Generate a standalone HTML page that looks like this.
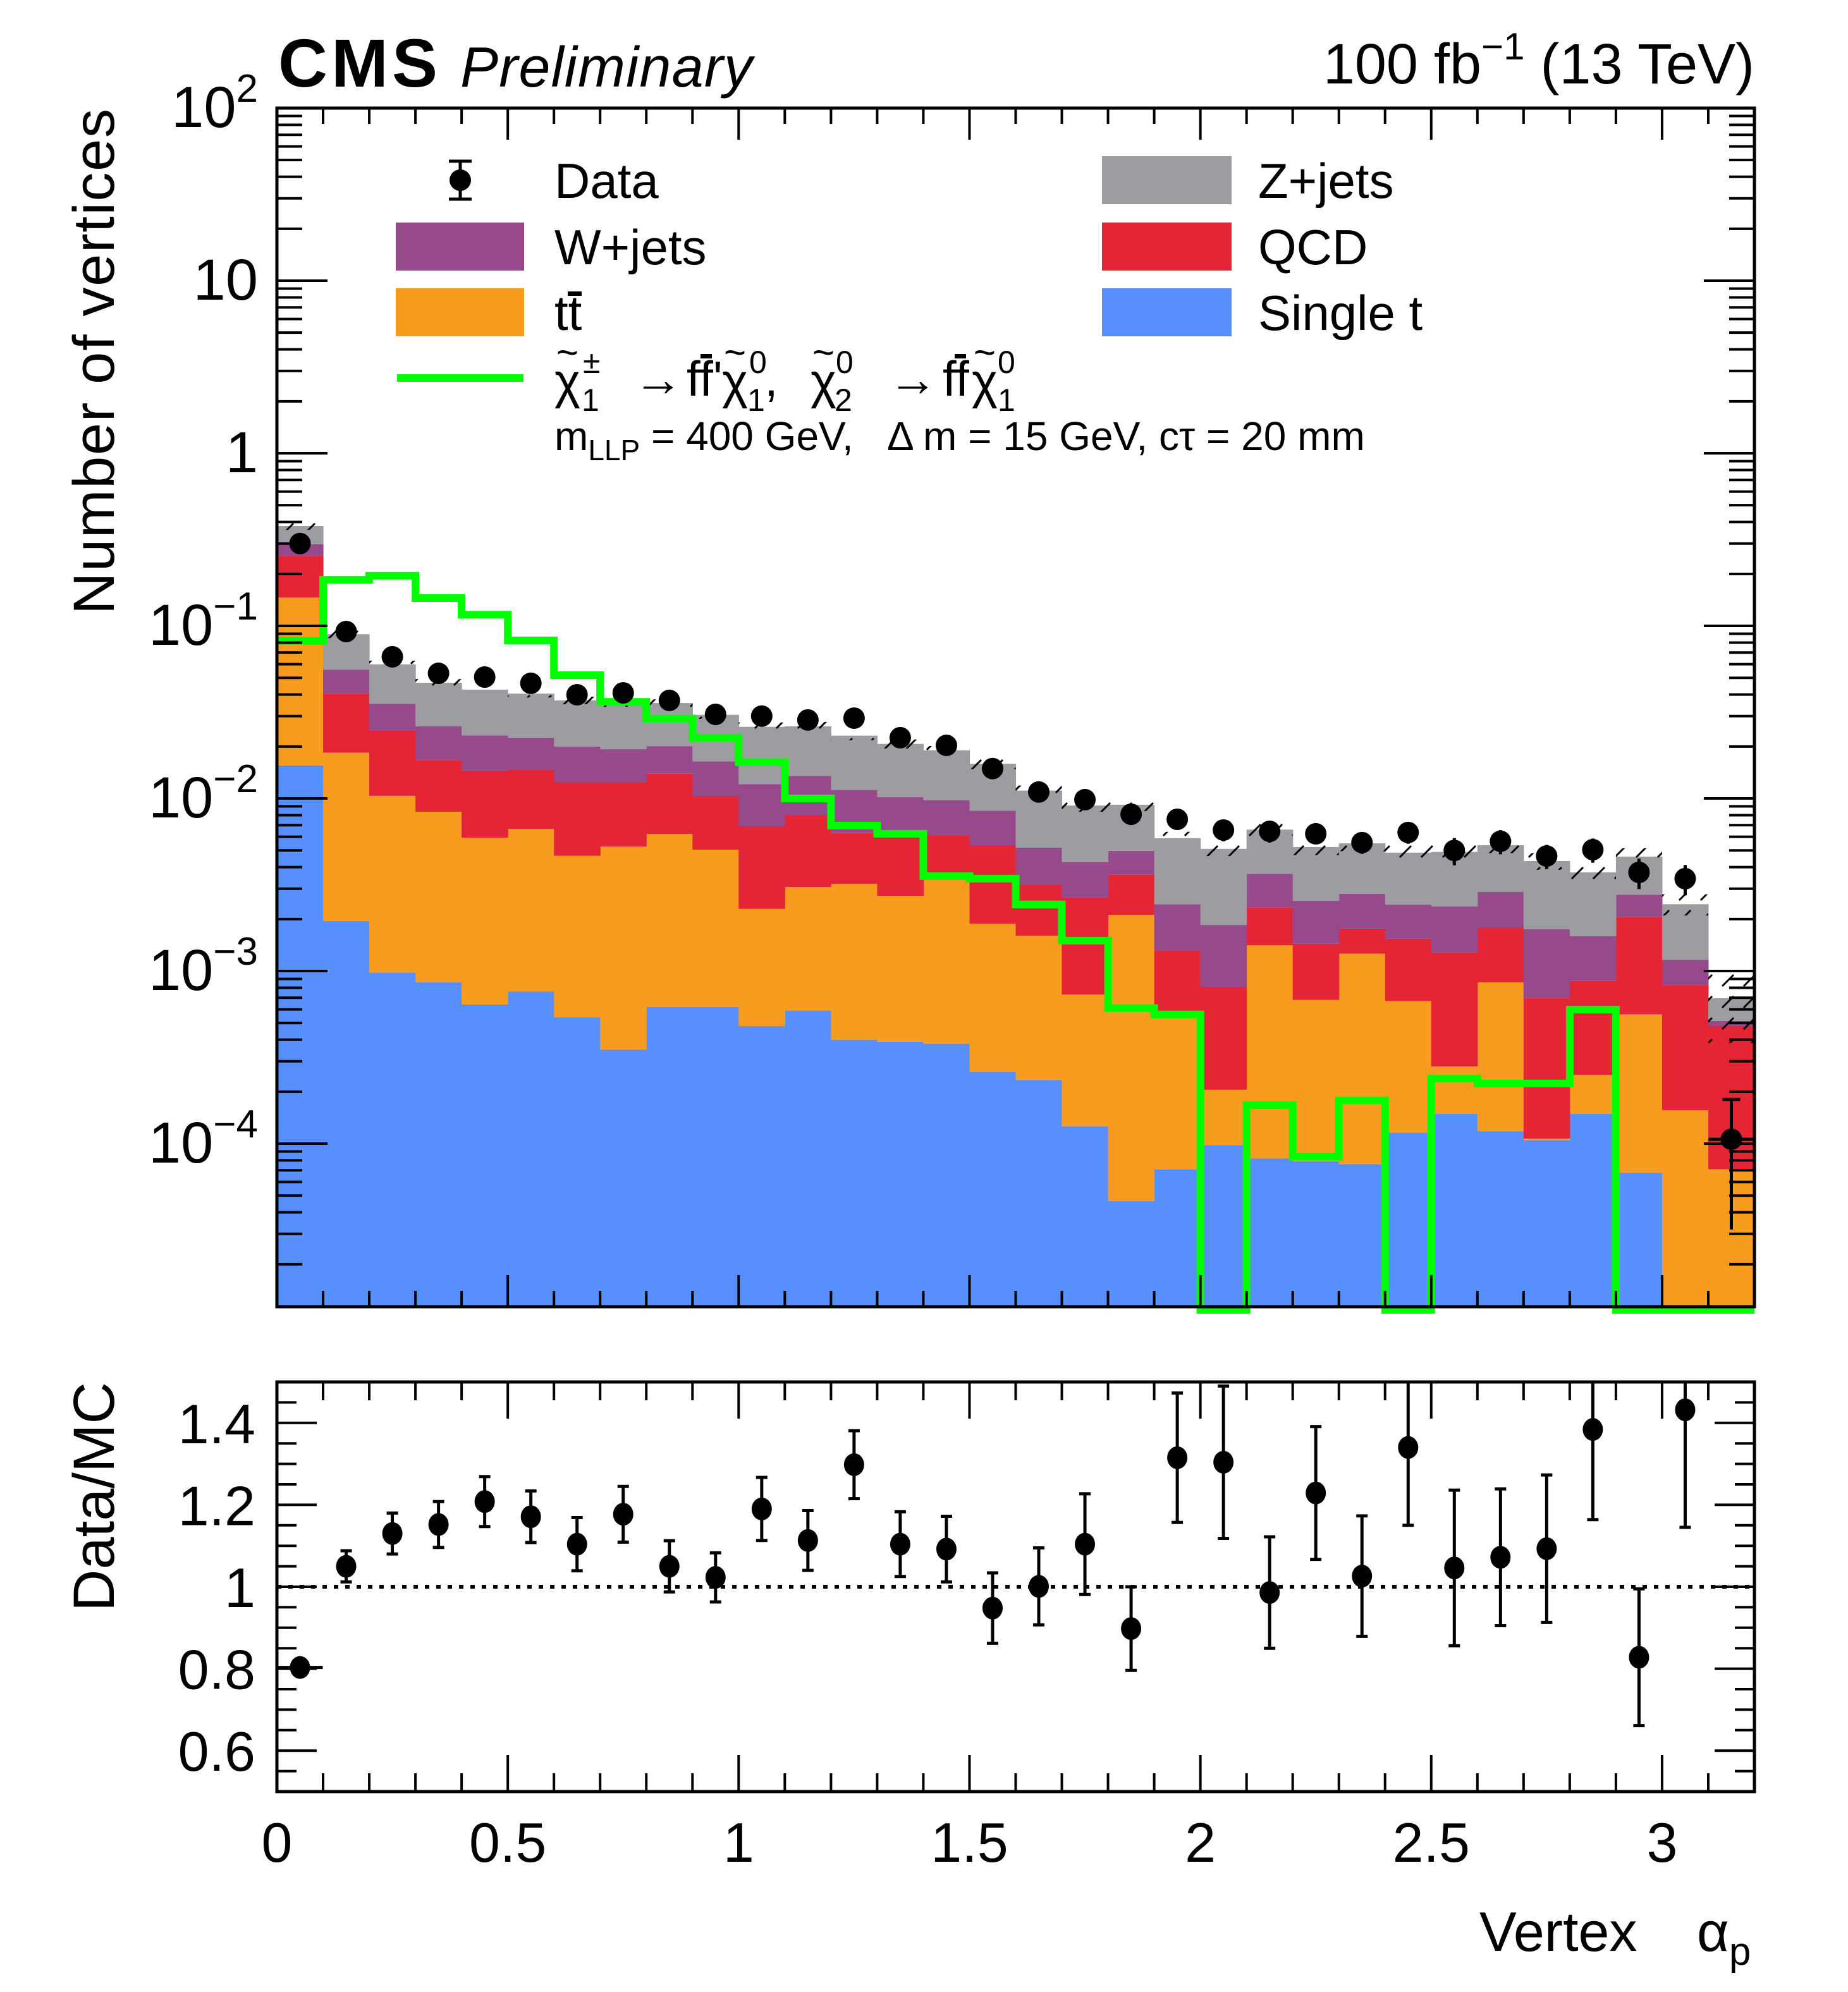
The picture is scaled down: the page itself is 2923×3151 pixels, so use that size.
<!DOCTYPE html>
<html><head><meta charset="utf-8"><style>
html,body{margin:0;padding:0;background:#fff;}
svg{display:block;font-family:"Liberation Sans","DejaVu Sans",sans-serif;}
text{white-space:pre;}
</style></head><body>
<svg id="chart" xmlns="http://www.w3.org/2000/svg" xml:space="preserve" width="2923" height="3151" viewBox="0 0 2923 3151">
<defs>
<pattern id="hatch" patternUnits="userSpaceOnUse" width="34" height="34">
<line x1="4" y1="30" x2="22" y2="12" stroke="#000" stroke-width="3"/>
</pattern>
<clipPath id="topclip"><rect x="438" y="171" width="2337" height="1896"/></clipPath>
<clipPath id="ratioclip"><rect x="438" y="2186" width="2337" height="648"/></clipPath>
</defs>
<rect x="0" y="0" width="2923" height="3151" fill="#fff"/>
<g id="stack" clip-path="url(#topclip)"></g>
<g id="band" clip-path="url(#topclip)"></g>
<g id="signal"></g>
<g id="datapts"></g>
<g id="ratio" clip-path="url(#ratioclip)"></g>
<g id="axes"></g>

<text x="440" y="137" font-size="108" font-weight="bold" textLength="252">CMS</text>
<text x="728" y="137" font-size="90" font-style="italic" textLength="462">Preliminary</text>
<text x="2775" y="132" font-size="90" text-anchor="end">100 fb<tspan dy="-38" font-size="60">−1</tspan><tspan dy="38"> (13 TeV)</tspan></text>
<text transform="translate(180,172) rotate(-90)" font-size="92" text-anchor="end" textLength="800">Number of vertices</text>
<text transform="translate(180,2186) rotate(-90)" font-size="92" text-anchor="end">Data/MC</text>
<text x="2340" y="3086" font-size="88">Vertex</text>
<text x="2684" y="3086" font-size="88">α<tspan dy="22" font-size="62">p</tspan></text>

<g font-size="78">
 <g>
  <line x1="728" y1="255" x2="728" y2="315" stroke="#000" stroke-width="5"/>
  <line x1="710" y1="255" x2="746" y2="255" stroke="#000" stroke-width="5"/>
  <line x1="710" y1="315" x2="746" y2="315" stroke="#000" stroke-width="5"/>
  <circle cx="728" cy="285" r="17" fill="#000"/>
  <text x="877" y="313">Data</text>
 </g>
 <g><rect x="626" y="352" width="203" height="76" fill="#964a8b"/><text x="877" y="418">W+jets</text></g>
 <g><rect x="626" y="456" width="203" height="76" fill="#f89c20"/><text x="877" y="522">tt</text><rect x="898" y="461" width="22" height="7" fill="#000"/></g>
 <g>
  <line x1="628" y1="598" x2="828" y2="598" stroke="#00ff00" stroke-width="12"/>
  <text x="877" y="630">χ</text>
  <text x="880" y="578" font-size="60">~</text>
  <text x="922" y="590" font-size="50">±</text>
  <text x="920" y="650" font-size="50">1</text>
  <text x="1002" y="626" textLength="63">→</text>
  <text x="1086" y="626">ff'</text>
  <rect x="1108" y="560" width="18" height="7" fill="#000"/>
  <text x="1142" y="630">χ</text>
  <text x="1145" y="578" font-size="60">~</text>
  <text x="1185" y="590" font-size="50">0</text>
  <text x="1182" y="650" font-size="50">1</text>
  <text x="1209" y="626">,</text>
  <text x="1282" y="630">χ</text>
  <text x="1285" y="578" font-size="60">~</text>
  <text x="1322" y="590" font-size="50">0</text>
  <text x="1320" y="650" font-size="50">2</text>
  <text x="1405" y="626" textLength="64">→</text>
  <text x="1491" y="626">ff</text>
  <rect x="1510" y="560" width="18" height="7" fill="#000"/>
  <text x="1537" y="630">χ</text>
  <text x="1540" y="578" font-size="60">~</text>
  <text x="1578" y="590" font-size="50">0</text>
  <text x="1578" y="650" font-size="50">1</text>
 </g>
 <text x="877" y="712" font-size="64">m<tspan dy="16" font-size="46">LLP</tspan><tspan dy="-16"> = 400 GeV,   Δ m = 15 GeV, cτ = 20 mm</tspan></text>
 <g><rect x="1743" y="247" width="205" height="76" fill="#9c9ca1"/><text x="1990" y="313">Z+jets</text></g>
 <g><rect x="1743" y="352" width="205" height="76" fill="#e42536"/><text x="1990" y="418">QCD</text></g>
 <g><rect x="1743" y="456" width="205" height="76" fill="#5790fc"/><text x="1990" y="522">Single t</text></g>
</g>
</svg>
<script>
// ---- data ----
const binEdgesLow = [0,0.1,0.2,0.3,0.4,0.5,0.6,0.7,0.8,0.9,1.0,1.1,1.2,1.3,1.4,1.5,1.6,1.7,1.8,1.9,2.0,2.1,2.2,2.3,2.4,2.5,2.6,2.7,2.8,2.9,3.0,3.1];
const binWidth = 0.1;
const singleT = [0.0155,0.00195,0.00098,0.00086,0.00064,0.00076,0.00054,0.00035,0.00062,0.00062,0.00048,0.00059,0.0004,0.00039,0.00038,0.00026,0.000234,0.000126,0.0000465,0.000071,0.000098,0.000082,0.000079,0.000076,0.000116,0.000149,0.000118,0.000105,0.000149,0.000068,0,0];
const ttbar = [0.1305,0.01645,0.00937,0.00752,0.00529,0.00591,0.00411,0.00492,0.00562,0.00443,0.00181,0.00248,0.0028,0.00234,0.003,0.00162,0.001366,0.000604,0.00207,0.000464,0.000107,0.001328,0.000601,0.001184,0.000554,0.000131,0.000742,0.000002,0.000101,0.000492,0.000156,0.000071];
const qcd = [0.107,0.0221,0.01455,0.00832,0.00857,0.00803,0.00775,0.00713,0.00766,0.0053,0.00461,0.00496,0.0031,0.0032,0.0027,0.00348,0.00155,0.00195,0.00151,0.000775,0.000605,0.00093,0.00076,0.0005,0.00087,0.001,0.00093,0.000593,0.00063,0.0015,0.000674,0.000409];
const wjets = [0.044,0.0153,0.0105,0.0095,0.0087,0.0078,0.0076,0.0069,0.0062,0.00605,0.0052,0.00547,0.0049,0.00427,0.00367,0.00314,0.00203,0.00159,0.00134,0.00113,0.00104,0.00132,0.00111,0.00104,0.00089,0.00109,0.00108,0.00105,0.00071,0.00071,0.00033,0.000034];
const zjets = [0.082,0.0337,0.0244,0.0206,0.0195,0.018,0.017,0.0164,0.0156,0.0141,0.0139,0.0127,0.0119,0.0105,0.00925,0.0074,0.00592,0.00483,0.00423,0.00344,0.00325,0.00294,0.00268,0.0027,0.00242,0.00253,0.00249,0.00259,0.00214,0.00183,0.00128,0.000181];
const mcRelUnc = [0.05,0.05,0.05,0.05,0.05,0.05,0.05,0.05,0.05,0.05,0.06,0.06,0.06,0.06,0.06,0.07,0.07,0.08,0.08,0.09,0.09,0.09,0.1,0.1,0.1,0.1,0.1,0.11,0.12,0.12,0.14,0.45];
const signalVals = [0.0817,0.185,0.195,0.145,0.116,0.0824,0.0518,0.0363,0.029,0.0225,0.0162,0.01,0.00696,0.00624,0.00355,0.00343,0.00243,0.0015,0.00061,0.00056,0,0.000167,0.000084,0.000178,0,0.000238,0.000223,0.000223,0.000598,0,0,0];
const dataVals = [0.30,0.0927,0.0662,0.0531,0.0505,0.0465,0.0399,0.0409,0.037,0.0307,0.030,0.0285,0.0292,0.0225,0.0203,0.0149,0.0109,0.00984,0.0081,0.00757,0.00656,0.00645,0.00624,0.00555,0.00635,0.0050,0.00565,0.00464,0.00505,0.00373,0.00343,0.000106];
const dataRelErr = [0.01,0.036,0.044,0.049,0.05,0.054,0.059,0.058,0.06,0.059,0.065,0.066,0.064,0.072,0.073,0.09,0.094,0.11,0.11,0.12,0.14,0.14,0.13,0.14,0.14,0.18,0.16,0.16,0.16,0.2,0.2,0.7];
const ratioVals = [0.803,1.05,1.13,1.152,1.208,1.171,1.104,1.177,1.05,1.023,1.19,1.113,1.298,1.104,1.092,0.948,1.001,1.104,0.898,1.315,1.304,0.986,1.229,1.026,1.34,1.046,1.072,1.093,1.384,0.828,1.432,0.15];
const ratioErr = [0.008,0.038,0.05,0.056,0.061,0.063,0.065,0.068,0.0625,0.06,0.077,0.073,0.083,0.079,0.08,0.086,0.094,0.123,0.102,0.158,0.186,0.136,0.162,0.147,0.19,0.19,0.167,0.18,0.22,0.167,0.287,0.1];
const logTickLabels = [["10","2"],["10",""],["1",""],["10","−1"],["10","−2"],["10","−3"],["10","−4"]];
const logTickPowers = [2,1,0,-1,-2,-3,-4];
const ratioTickVals = [1.4,1.2,1.0,0.8,0.6];
const ratioTickLabels = ["1.4","1.2","1","0.8","0.6"];
const xTickVals = [0,0.5,1,1.5,2,2.5,3];
const xTickLabels = ["0","0.5","1","1.5","2","2.5","3"];

// ---- geometry ----
const NS="http://www.w3.org/2000/svg";
const X0=438,X1=2775,XMIN=0,XMAX=3.2;
const TY0=171,TY1=2067,LMIN=Math.log10(1.135e-5),LMAX=2;
const RY0=2186,RY1=2834,RMIN=0.5,RMAX=1.5;
function xs(v){return X0+(v-XMIN)/(XMAX-XMIN)*(X1-X0);}
function ys(v){if(v<=0)return TY1+50;return TY1-(Math.log10(v)-LMIN)/(LMAX-LMIN)*(TY1-TY0);}
function yr(v){return RY1-(v-RMIN)/(RMAX-RMIN)*(RY1-RY0);}
function mk(tag,attrs,parent){const e=document.createElementNS(NS,tag);for(const k in attrs)e.setAttribute(k,attrs[k]);parent.appendChild(e);return e;}

// ---- stack ----
const stackG=document.getElementById('stack');
const procs=[[singleT,'#5790fc','single-t'],[ttbar,'#f89c20','ttbar'],[qcd,'#e42536','qcd'],[wjets,'#964a8b','wjets'],[zjets,'#9c9ca1','zjets']];
const totals=binEdgesLow.map(()=>0);
procs.forEach(([vals,col,nm])=>{
  binEdgesLow.forEach((lo,i)=>{
    const b=totals[i],t=b+vals[i];
    totals[i]=t;
    if(vals[i]<=0)return;
    const yb=b>0?ys(b):TY1+10, yt=ys(t);
    const xa=xs(lo),xb=xs(lo+binWidth);
    const r=mk('rect',{x:xa.toFixed(1),y:yt.toFixed(1),width:(xb-xa+0.6).toFixed(1),height:Math.max(0,yb-yt).toFixed(1),fill:col},stackG);
    
    
  });
});
// ---- uncertainty band ----
const bandG=document.getElementById('band');
binEdgesLow.forEach((lo,i)=>{
  const t=totals[i];
  const y1=ys(t*(1+mcRelUnc[i])),y2=ys(t*(1-mcRelUnc[i]));
  const r=mk('rect',{x:xs(lo).toFixed(1),y:y1.toFixed(1),width:(xs(lo+binWidth)-xs(lo)).toFixed(1),height:(y2-y1).toFixed(1),fill:'url(#hatch)'},bandG);
  
  
});
// ---- signal ----
let d='';
binEdgesLow.forEach((lo,i)=>{
  const y=signalVals[i]>0?ys(signalVals[i]):TY1+5;
  d+=(i===0?'M':'L')+xs(lo).toFixed(1)+','+y.toFixed(1)+'L'+xs(lo+binWidth).toFixed(1)+','+y.toFixed(1);
});
const sp=mk('path',{d:d,fill:'none',stroke:'#00ff00','stroke-width':12,'stroke-linejoin':'miter'},document.getElementById('signal'));


// ---- data ----
const dG=document.getElementById('datapts');
binEdgesLow.forEach((lo,i)=>{
  const cx=xs(lo+binWidth/2),v=dataVals[i],cy=ys(v);
  const g=mk('g',{},dG);
  
  
  const hi=ys(v*(1+dataRelErr[i])),lo2=ys(Math.max(v*(1-dataRelErr[i]),1e-9));
  mk('line',{x1:cx,y1:hi,x2:cx,y2:lo2,stroke:'#000','stroke-width':5},g);
  if(dataRelErr[i]>0.3){
    mk('line',{x1:cx-14,y1:hi,x2:cx+14,y2:hi,stroke:'#000','stroke-width':5},g);
    mk('line',{x1:cx-36,y1:cy,x2:cx+36,y2:cy,stroke:'#000','stroke-width':5},g);
  }
  mk('circle',{cx:cx,cy:cy,r:17,fill:'#000'},g);
});
// ---- ratio ----
const rG=document.getElementById('ratio');
const dl=mk('line',{x1:X0,y1:yr(1),x2:X1,y2:yr(1),stroke:'#000','stroke-width':6,'stroke-dasharray':'7,11'},rG);


binEdgesLow.forEach((lo,i)=>{
  const cx=xs(lo+binWidth/2),v=ratioVals[i];
  const g=mk('g',{},rG);
  
  
  const y1=yr(v+ratioErr[i]),y2=yr(v-ratioErr[i]);
  mk('line',{x1:cx,y1:y1,x2:cx,y2:y2,stroke:'#000','stroke-width':5},g);
  mk('line',{x1:cx-9,y1:y1,x2:cx+9,y2:y1,stroke:'#000','stroke-width':5},g);
  mk('line',{x1:cx-9,y1:y2,x2:cx+9,y2:y2,stroke:'#000','stroke-width':5},g);
  if(i===0) mk('line',{x1:cx-36,y1:yr(v),x2:cx+36,y2:yr(v),stroke:'#000','stroke-width':5},g);
  mk('ellipse',{cx:cx,cy:yr(v),rx:16,ry:18,fill:'#000'},g);
});
// ---- axes ----
const aG=document.getElementById('axes');
function ln(x1,y1,x2,y2,w){mk('line',{x1:x1,y1:y1,x2:x2,y2:y2,stroke:'#000','stroke-width':w||4},aG);}
function frame(y0,y1,nm){const r=mk('rect',{x:X0,y:y0,width:X1-X0,height:y1-y0,fill:'none',stroke:'#000','stroke-width':5},aG);}
for(let k=0;k<=32;k++){
  const v=k*0.1,x=xs(v),major=(k%5===0);
  ln(x,TY1,x,TY1-(major?50:25));ln(x,TY0,x,TY0+(major?50:25));
  ln(x,RY1,x,RY1-(major?58:29));ln(x,RY0,x,RY0+(major?58:29));
}
for(let p=-5;p<=2;p++){
  for(let m=1;m<=9;m++){
    const v=m*Math.pow(10,p);if(Math.log10(v)<LMIN-1e-9||Math.log10(v)>LMAX+1e-9)continue;
    const y=ys(v),len=(m===1?80:40);
    ln(X0,y,X0+len,y);ln(X1,y,X1-len,y);
  }
}
for(let k=1;k<20;k++){
  const v=0.5+k*0.05,y=yr(v),major=(k%4===2);
  const len=major?63:31;
  ln(X0,y,X0+len,y);ln(X1,y,X1-len,y);
}
frame(TY0,TY1,'top-pad-frame');frame(RY0,RY1,'ratio-pad-frame');
logTickPowers.forEach((p,i)=>{
  const t=mk('text',{x:408,y:ys(Math.pow(10,p))+30,'font-size':92,'text-anchor':'end'},aG);
  
  
  const [base,sup]=logTickLabels[i];
  if(sup){
    const t1=document.createElementNS(NS,'tspan');t1.textContent=base;t.appendChild(t1);
    const t2=document.createElementNS(NS,'tspan');t2.setAttribute('dy','-40');t2.setAttribute('font-size','62');t2.textContent=sup;t.appendChild(t2);
  } else t.textContent=base;
});
ratioTickVals.forEach((v,i)=>{
  const t=mk('text',{x:404,y:yr(v)+32,'font-size':88,'text-anchor':'end'},aG);
  
  
  t.textContent=ratioTickLabels[i];
});
xTickVals.forEach((v,i)=>{
  const t=mk('text',{x:xs(v),y:2945,'font-size':88,'text-anchor':'middle'},aG);
  
  
  t.textContent=xTickLabels[i];
});
</script>
</body></html>
